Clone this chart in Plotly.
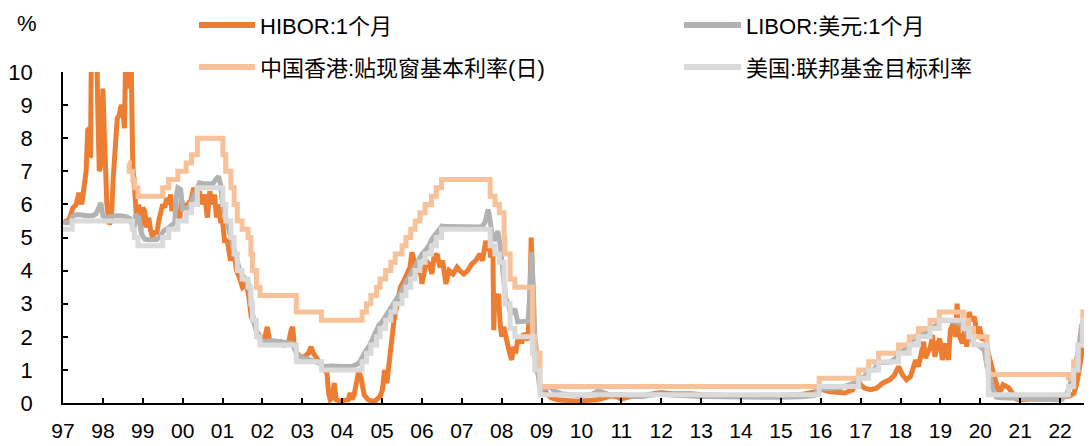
import plotly.graph_objects as go

# ---------------- data (x in decimal years) ----------------
hibor_t = [1997.00, 1997.08, 1997.17, 1997.25, 1997.33, 1997.40, 1997.47, 1997.52, 1997.58, 1997.62,
           1997.66, 1997.69, 1997.72, 1997.75, 1997.79, 1997.83, 1997.87, 1997.91, 1997.95, 1998.00,
           1998.04, 1998.10, 1998.16, 1998.21, 1998.26, 1998.31, 1998.36, 1998.41, 1998.46, 1998.50,
           1998.54, 1998.58, 1998.62, 1998.66, 1998.70, 1998.75, 1998.80, 1998.85, 1998.90, 1998.95,
           1999.00, 1999.05, 1999.10, 1999.15, 1999.20, 1999.25, 1999.30, 1999.35, 1999.40, 1999.45,
           1999.50, 1999.55, 1999.60, 1999.65, 1999.70, 1999.73, 1999.78, 1999.85, 1999.92, 1999.97,
           2000.05, 2000.12, 2000.20, 2000.28, 2000.35, 2000.42, 2000.48, 2000.55, 2000.62, 2000.68,
           2000.75, 2000.80, 2000.85, 2000.90, 2000.95, 2001.00, 2001.05, 2001.12, 2001.20, 2001.28,
           2001.35, 2001.42, 2001.50, 2001.58, 2001.65, 2001.72, 2001.80, 2001.88, 2001.95, 2002.05,
           2002.12, 2002.18, 2002.30, 2002.45, 2002.55, 2002.65, 2002.72, 2002.76, 2002.80, 2002.87,
           2002.95, 2003.05, 2003.15, 2003.22, 2003.28, 2003.35, 2003.45, 2003.55, 2003.62, 2003.66,
           2003.70, 2003.75, 2003.80, 2003.85, 2003.95, 2004.05, 2004.15, 2004.20, 2004.25, 2004.30,
           2004.36, 2004.42, 2004.48, 2004.55, 2004.65, 2004.75, 2004.85, 2004.95, 2005.01, 2005.06,
           2005.12, 2005.18, 2005.22, 2005.30, 2005.38, 2005.46, 2005.55, 2005.62, 2005.70, 2005.75,
           2005.80, 2005.88, 2005.95, 2006.00, 2006.05, 2006.10, 2006.18, 2006.25, 2006.30, 2006.38,
           2006.45, 2006.52, 2006.60, 2006.68, 2006.78, 2006.88, 2006.95, 2007.05, 2007.15, 2007.25,
           2007.35, 2007.45, 2007.52, 2007.60, 2007.65, 2007.68, 2007.72, 2007.78, 2007.80, 2007.83,
           2007.88, 2007.92, 2007.96, 2008.00, 2008.05, 2008.10, 2008.15, 2008.20, 2008.25, 2008.30,
           2008.35, 2008.40, 2008.45, 2008.50, 2008.55, 2008.60, 2008.66, 2008.70, 2008.74, 2008.78,
           2008.82, 2008.88, 2008.93, 2008.97, 2009.05, 2009.15, 2009.25, 2009.40, 2009.60, 2009.80,
           2010.00, 2010.20, 2010.40, 2010.60, 2010.75, 2010.90, 2011.00, 2011.25, 2011.50, 2011.80,
           2012.00, 2012.25, 2012.50, 2012.75, 2013.00, 2013.50, 2014.00, 2014.50, 2015.00, 2015.50,
           2015.90, 2016.00, 2016.20, 2016.40, 2016.60, 2016.80, 2016.93, 2017.00, 2017.10, 2017.25,
           2017.40, 2017.55, 2017.65, 2017.75, 2017.85, 2017.95, 2018.05, 2018.15, 2018.25, 2018.32,
           2018.38, 2018.45, 2018.52, 2018.58, 2018.62, 2018.68, 2018.75, 2018.80, 2018.86, 2018.92,
           2018.98, 2019.05, 2019.12, 2019.20, 2019.25, 2019.32, 2019.38, 2019.42, 2019.45, 2019.55,
           2019.62, 2019.66, 2019.72, 2019.78, 2019.85, 2019.92, 2019.98, 2020.05, 2020.12, 2020.20,
           2020.27, 2020.33, 2020.40, 2020.45, 2020.50, 2020.57, 2020.65, 2020.72, 2020.80, 2020.90,
           2021.00, 2021.30, 2021.60, 2021.90, 2022.10, 2022.25, 2022.35, 2022.42, 2022.48, 2022.52,
           2022.56, 2022.60]
hibor_v = [5.50, 5.45, 5.60, 5.90, 6.00, 6.35, 6.00, 6.45, 7.00, 8.25,
           8.30, 7.40, 12.0, 11.0, 10.6, 12.0, 9.0, 7.00, 7.20, 9.50,
           8.00, 6.00, 5.40, 5.50, 6.80, 7.80, 8.60, 8.70, 9.00, 8.90,
           8.30, 11.0, 12.0, 9.50, 11.0, 7.20, 6.20, 5.50, 6.00, 5.20,
           5.90, 5.80, 5.30, 5.60, 5.20, 5.00, 5.20, 5.10, 5.50, 5.70,
           6.00, 5.90, 6.20, 6.00, 6.30, 5.80, 6.00, 5.60, 5.50, 6.10,
           5.90, 6.00, 6.10, 6.50, 6.20, 6.40, 6.00, 6.30, 5.60, 6.40,
           6.00, 6.30, 5.60, 6.00, 5.50, 5.50, 4.90, 4.90, 4.30, 4.60,
           4.00, 3.80, 3.50, 3.60, 3.30, 2.60, 2.40, 2.10, 2.00, 1.90,
           2.30, 1.90, 1.80, 1.85, 1.75, 1.80, 2.20, 2.30, 1.70, 1.50,
           1.40, 1.40, 1.50, 1.70, 1.50, 1.40, 1.20, 1.00, 0.90, 0.30,
           0.10, 0.15, 0.60, 0.10, 0.05, 0.08, 0.10, 0.30, 0.10, 0.25,
           0.60, 1.00, 0.70, 0.25, 0.10, 0.05, 0.08, 0.20, 0.40, 1.00,
           0.60, 1.30, 1.80, 2.50, 3.00, 3.50, 3.70, 3.90, 4.10, 4.55,
           4.30, 3.90, 4.10, 3.60, 3.90, 4.30, 4.20, 3.90, 4.40, 4.50,
           4.10, 4.30, 3.60, 4.00, 3.90, 4.10, 4.00, 3.90, 4.00, 4.20,
           4.30, 4.50, 4.30, 4.90, 4.60, 4.90, 4.40, 4.60, 2.20, 3.30,
           3.00, 3.30, 2.40, 2.00, 2.30, 2.00, 1.70, 1.50, 1.30, 1.70,
           1.50, 1.90, 2.00, 1.80, 2.10, 2.00, 1.90, 3.00, 5.00, 3.50,
           1.50, 1.00, 0.80, 0.40, 0.45, 0.25, 0.15, 0.10, 0.07, 0.06,
           0.06, 0.07, 0.10, 0.16, 0.22, 0.18, 0.12, 0.20, 0.20, 0.28,
           0.32, 0.28, 0.29, 0.28, 0.25, 0.22, 0.22, 0.21, 0.24, 0.25,
           0.35, 0.42, 0.35, 0.32, 0.30, 0.40, 0.70, 0.55, 0.45, 0.40,
           0.45, 0.60, 0.65, 0.72, 0.85, 1.10, 0.85, 0.70, 0.80, 1.05,
           1.30, 1.10, 1.55, 1.85, 1.35, 1.50, 1.70, 2.05, 1.40, 1.75,
           1.95, 1.30, 1.80, 1.30, 2.20, 2.40, 2.00, 3.00, 2.10, 1.80,
           2.30, 1.70, 2.75, 2.50, 2.60, 2.10, 2.30, 1.90, 2.00, 1.50,
           1.10, 0.90, 0.60, 0.40, 0.35, 0.55, 0.50, 0.45, 0.30, 0.12,
           0.10, 0.13, 0.12, 0.16, 0.20, 0.22, 0.30, 0.60, 1.00, 1.30,
           1.60, 1.90]

libor_t = [1997.00, 1997.08, 1997.17, 1997.25, 1997.33, 1997.42, 1997.50, 1997.58, 1997.67, 1997.75,
           1997.83, 1997.90, 1997.95, 1998.00, 1998.08, 1998.17, 1998.25, 1998.33, 1998.42, 1998.50,
           1998.58, 1998.67, 1998.72, 1998.78, 1998.82, 1998.90, 1998.97, 1999.05, 1999.15, 1999.25,
           1999.35, 1999.45, 1999.52, 1999.60, 1999.68, 1999.75, 1999.80, 1999.84, 1999.88, 1999.95,
           2000.00, 2000.08, 2000.17, 2000.25, 2000.33, 2000.42, 2000.50, 2000.58, 2000.67, 2000.75,
           2000.83, 2000.90, 2000.95, 2001.00, 2001.08, 2001.17, 2001.25, 2001.33, 2001.42, 2001.50,
           2001.58, 2001.67, 2001.75, 2001.83, 2001.92, 2002.00, 2002.25, 2002.50, 2002.75, 2002.88,
           2003.00, 2003.25, 2003.45, 2003.55, 2003.75, 2004.00, 2004.25, 2004.42, 2004.50, 2004.58,
           2004.67, 2004.75, 2004.83, 2004.92, 2005.00, 2005.08, 2005.17, 2005.25, 2005.33, 2005.42,
           2005.50, 2005.58, 2005.67, 2005.75, 2005.83, 2005.92, 2006.00, 2006.08, 2006.17, 2006.25,
           2006.33, 2006.42, 2006.50, 2006.58, 2006.67, 2006.75, 2006.83, 2006.92, 2007.00, 2007.25,
           2007.50, 2007.58, 2007.62, 2007.66, 2007.70, 2007.75, 2007.83, 2007.90, 2007.96, 2008.02,
           2008.06, 2008.10, 2008.17, 2008.22, 2008.28, 2008.33, 2008.40, 2008.50, 2008.58, 2008.66,
           2008.70, 2008.75, 2008.79, 2008.83, 2008.88, 2008.94, 2009.00, 2009.08, 2009.17, 2009.25,
           2009.33, 2009.42, 2009.50, 2009.67, 2009.83, 2010.00, 2010.25, 2010.40, 2010.50, 2010.67,
           2010.83, 2011.00, 2011.25, 2011.50, 2011.75, 2011.92, 2012.00, 2012.25, 2012.50, 2012.75,
           2013.00, 2013.50, 2014.00, 2014.50, 2015.00, 2015.50, 2015.83, 2015.92, 2016.00, 2016.25,
           2016.50, 2016.67, 2016.83, 2016.95, 2017.08, 2017.20, 2017.33, 2017.45, 2017.58, 2017.75,
           2017.88, 2017.96, 2018.08, 2018.17, 2018.25, 2018.33, 2018.45, 2018.58, 2018.70, 2018.80,
           2018.90, 2018.97, 2019.08, 2019.25, 2019.42, 2019.50, 2019.58, 2019.67, 2019.75, 2019.83,
           2019.92, 2020.00, 2020.10, 2020.17, 2020.22, 2020.30, 2020.40, 2020.50, 2020.75, 2021.00,
           2021.50, 2021.90, 2022.05, 2022.15, 2022.22, 2022.30, 2022.38, 2022.46, 2022.54, 2022.60]
libor_v = [5.45, 5.44, 5.45, 5.65, 5.69, 5.69, 5.66, 5.66, 5.66, 5.66,
           5.72, 5.95, 6.05, 5.65, 5.60, 5.63, 5.66, 5.66, 5.66, 5.66,
           5.63, 5.58, 5.40, 5.25, 5.70, 5.60, 5.10, 4.95, 4.93, 4.94,
           4.94, 5.05, 5.20, 5.25, 5.35, 5.40, 5.45, 6.20, 6.50, 6.45,
           5.85, 5.85, 5.95, 6.15, 6.40, 6.65, 6.63, 6.62, 6.62, 6.62,
           6.75, 6.85, 6.60, 6.00, 5.60, 5.15, 4.85, 4.35, 4.05, 3.85,
           3.75, 3.55, 2.70, 2.25, 1.95, 1.85, 1.88, 1.84, 1.80, 1.42,
           1.38, 1.30, 1.20, 1.10, 1.12, 1.10, 1.10, 1.20, 1.40, 1.55,
           1.70, 1.90, 2.10, 2.35, 2.45, 2.60, 2.75, 2.95, 3.10, 3.20,
           3.40, 3.60, 3.80, 3.90, 4.10, 4.35, 4.50, 4.60, 4.75, 4.95,
           5.08, 5.20, 5.35, 5.33, 5.33, 5.32, 5.32, 5.35, 5.32, 5.32,
           5.32, 5.45, 5.75, 5.85, 5.60, 5.15, 4.90, 5.20, 4.80, 4.20,
           3.70, 3.15, 3.00, 2.70, 2.75, 2.85, 2.45, 2.46, 2.46, 2.48,
           3.20, 4.55, 3.50, 2.00, 1.50, 0.60, 0.40, 0.45, 0.50, 0.45,
           0.35, 0.32, 0.28, 0.25, 0.24, 0.23, 0.26, 0.35, 0.34, 0.26,
           0.25, 0.26, 0.21, 0.19, 0.24, 0.28, 0.27, 0.24, 0.24, 0.21,
           0.20, 0.19, 0.16, 0.15, 0.17, 0.19, 0.22, 0.40, 0.43, 0.44,
           0.47, 0.53, 0.60, 0.75, 0.78, 0.98, 1.00, 1.22, 1.23, 1.24,
           1.35, 1.56, 1.60, 1.75, 1.88, 1.92, 2.09, 2.08, 2.20, 2.30,
           2.35, 2.50, 2.50, 2.49, 2.43, 2.40, 2.25, 2.10, 2.02, 1.78,
           1.76, 1.70, 1.60, 1.10, 0.99, 0.50, 0.18, 0.16, 0.15, 0.12,
           0.09, 0.10, 0.11, 0.23, 0.45, 0.75, 1.10, 1.60, 2.35, 2.45]

hkbase_t = [1998.63, 1998.66, 1998.75, 1998.80, 1998.88, 1999.50, 1999.65, 1999.88, 2000.09, 2000.22,
            2000.37, 2001.01, 2001.08, 2001.21, 2001.29, 2001.37, 2001.49, 2001.64, 2001.71, 2001.75,
            2001.85, 2001.94, 2002.85, 2003.48, 2004.50, 2004.61, 2004.72, 2004.86, 2004.95, 2005.09,
            2005.22, 2005.33, 2005.50, 2005.60, 2005.72, 2005.83, 2005.95, 2006.08, 2006.24, 2006.36,
            2006.49, 2007.71, 2007.83, 2007.94, 2008.06, 2008.08, 2008.21, 2008.33, 2008.77, 2008.83,
            2008.96, 2015.96, 2016.95, 2017.20, 2017.45, 2017.95, 2018.22, 2018.45, 2018.74, 2018.97,
            2019.58, 2019.71, 2019.83, 2020.17, 2020.20, 2022.21, 2022.34, 2022.45, 2022.57, 2022.60]
hkbase_v = [7.25, 7.00, 6.75, 6.50, 6.25, 6.50, 6.75, 7.00, 7.25, 7.50,
            8.00, 7.50, 7.00, 6.50, 6.00, 5.50, 5.25, 5.00, 4.50, 4.00,
            3.50, 3.25, 2.75, 2.50, 2.75, 3.00, 3.25, 3.50, 3.75, 4.00,
            4.25, 4.50, 4.75, 5.00, 5.25, 5.50, 5.75, 6.00, 6.25, 6.50,
            6.75, 6.25, 6.00, 5.75, 5.00, 4.50, 3.75, 3.50, 2.00, 1.50,
            0.50, 0.75, 1.00, 1.25, 1.50, 1.75, 2.00, 2.25, 2.50, 2.75,
            2.50, 2.25, 2.00, 1.50, 0.86, 0.75, 1.25, 1.75, 2.75, 2.75]

fed_t = [1997.00, 1997.23, 1998.74, 1998.79, 1998.88, 1999.50, 1999.65, 1999.88, 2000.09, 2000.22,
         2000.37, 2001.01, 2001.08, 2001.21, 2001.29, 2001.37, 2001.49, 2001.64, 2001.71, 2001.75,
         2001.85, 2001.94, 2002.85, 2003.48, 2004.50, 2004.61, 2004.72, 2004.86, 2004.95, 2005.09,
         2005.22, 2005.33, 2005.50, 2005.60, 2005.72, 2005.83, 2005.95, 2006.08, 2006.24, 2006.36,
         2006.49, 2007.71, 2007.83, 2007.94, 2008.06, 2008.08, 2008.21, 2008.33, 2008.77, 2008.83,
         2008.96, 2015.96, 2016.95, 2017.20, 2017.45, 2017.95, 2018.22, 2018.45, 2018.74, 2018.97,
         2019.58, 2019.71, 2019.83, 2020.17, 2020.20, 2022.21, 2022.34, 2022.45, 2022.57, 2022.60]
fed_v = [5.25, 5.50, 5.25, 5.00, 4.75, 5.00, 5.25, 5.50, 5.75, 6.00,
         6.50, 6.00, 5.50, 5.00, 4.50, 4.00, 3.75, 3.50, 3.00, 2.50,
         2.00, 1.75, 1.25, 1.00, 1.25, 1.50, 1.75, 2.00, 2.25, 2.50,
         2.75, 3.00, 3.25, 3.50, 3.75, 4.00, 4.25, 4.50, 4.75, 5.00,
         5.25, 4.75, 4.50, 4.25, 3.50, 3.00, 2.25, 2.00, 1.50, 1.00,
         0.25, 0.50, 0.75, 1.00, 1.25, 1.50, 1.75, 2.00, 2.25, 2.50,
         2.25, 2.00, 1.75, 1.25, 0.25, 0.50, 1.00, 1.75, 2.50, 2.50]

year_ticks = list(range(1997, 2023))
year_labels = ["97", "98", "99", "00", "01", "02", "03", "04", "05", "06", "07", "08", "09",
               "10", "11", "12", "13", "14", "15", "16", "17", "18", "19", "20", "21", "22"]

series_names = ["HIBOR:1个月", "LIBOR:美元:1个月", "中国香港:贴现窗基本利率(日)", "美国:联邦基金目标利率"]
colors = ["#ED7D31", "#B2B2B2", "#F7C199", "#DADADA"]

# ---------------- layout constants ----------------
W, H = 1091, 446
L, R, T, B = 63, 7, 72, 43
PW, PH = W - L - R, H - T - B
FONT = "Liberation Sans, Arial, Noto Sans CJK SC, sans-serif"


def px2x(px):
    return (px - L) / PW


def px2y(py):
    return (H - B - py) / PH


fig = go.Figure()
fig.add_trace(go.Scatter(x=hibor_t, y=hibor_v, mode="lines", name=series_names[0],
                         line=dict(color=colors[0], width=5)))
fig.add_trace(go.Scatter(x=libor_t, y=libor_v, mode="lines", name=series_names[1],
                         line=dict(color=colors[1], width=5)))
fig.add_trace(go.Scatter(x=hkbase_t, y=hkbase_v, mode="lines", name=series_names[2],
                         line=dict(color=colors[2], width=5, shape="hv")))
fig.add_trace(go.Scatter(x=fed_t, y=fed_v, mode="lines", name=series_names[3],
                         line=dict(color=colors[3], width=5, shape="hv")))

# manual legend (two columns, two rows)
legend_pos = [(199, 255, 25), (684, 741, 25), (199, 255, 67), (684, 741, 67)]
shapes, annotations = [], []
for i, (x0, x1, yy) in enumerate(legend_pos):
    shapes.append(dict(type="line", xref="paper", yref="paper",
                       x0=px2x(x0), x1=px2x(x1), y0=px2y(yy), y1=px2y(yy),
                       line=dict(color=colors[i], width=6)))
    annotations.append(dict(text=series_names[i], xref="paper", yref="paper",
                            x=px2x(x1 + 3), y=px2y(yy + 1), xanchor="left", yanchor="middle",
                            showarrow=False, font=dict(size=22, color="#000000", family=FONT)))

annotations.append(dict(text="%", xref="paper", yref="paper", x=px2x(27), y=px2y(23),
                        xanchor="center", yanchor="middle", showarrow=False,
                        font=dict(size=22, color="#000000", family=FONT)))

axis_common = dict(showline=True, linecolor="#000000", linewidth=1.6, ticks="inside",
                   ticklen=5, tickwidth=1.6, tickcolor="#000000", showgrid=False,
                   zeroline=False, automargin=False)

fig.update_layout(
    width=W, height=H, margin=dict(l=L, r=R, t=T, b=B, pad=0, autoexpand=False),
    paper_bgcolor="white", plot_bgcolor="white", showlegend=False,
    font=dict(family=FONT, color="#000000"),
    shapes=shapes, annotations=annotations,
    xaxis=dict(range=[1997, 2022.6], tickmode="array", tickvals=year_ticks, ticktext=year_labels,
               ticklabelstandoff=8, tickfont=dict(size=21, color="#000000", family=FONT),
               **axis_common),
    yaxis=dict(range=[0, 10], tickmode="linear", tick0=0, dtick=1, ticklabelstandoff=24,
               tickfont=dict(size=22, color="#000000", family=FONT), **axis_common),
)

fig.write_html("out.html")
